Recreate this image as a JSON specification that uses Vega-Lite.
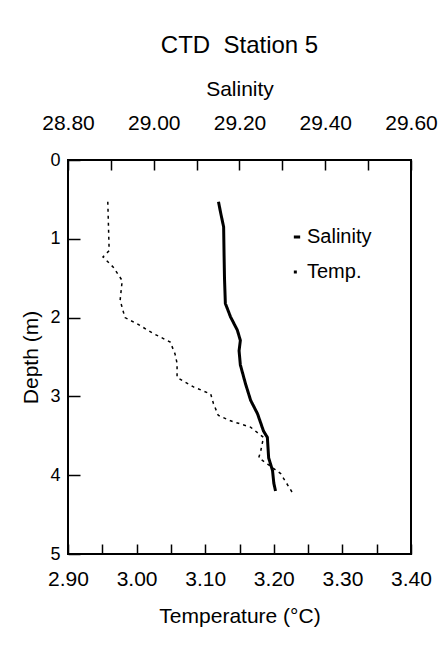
{
  "$schema": "https://vega.github.io/schema/vega-lite/v6.json",
  "width": 343,
  "height": 394,
  "autosize": {"type": "none"},
  "padding": {"left": 68, "top": 160, "right": 29, "bottom": 104},
  "background": "white",
  "title": {"text": "CTD\u00a0 Station 5", "fontSize": 24, "font": "Liberation Sans", "fontWeight": "normal", "offset": 20, "anchor": "middle", "color": "black"},
  "datasets": {
    "sal": [
      {"depth": 0.53, "salinity": 29.151},
      {"depth": 0.67, "salinity": 29.156},
      {"depth": 0.85, "salinity": 29.163},
      {"depth": 1.2, "salinity": 29.164},
      {"depth": 1.5, "salinity": 29.165},
      {"depth": 1.82, "salinity": 29.167},
      {"depth": 1.99, "salinity": 29.179},
      {"depth": 2.16, "salinity": 29.195},
      {"depth": 2.29, "salinity": 29.202},
      {"depth": 2.42, "salinity": 29.199},
      {"depth": 2.6, "salinity": 29.202},
      {"depth": 2.84, "salinity": 29.214},
      {"depth": 3.05, "salinity": 29.226},
      {"depth": 3.22, "salinity": 29.242},
      {"depth": 3.44, "salinity": 29.256},
      {"depth": 3.52, "salinity": 29.265},
      {"depth": 3.78, "salinity": 29.268},
      {"depth": 3.94, "salinity": 29.277},
      {"depth": 4.1, "salinity": 29.28},
      {"depth": 4.2, "salinity": 29.284}
    ],
    "temp": [
      {"depth": 0.53, "temperature": 2.958},
      {"depth": 1.15, "temperature": 2.96},
      {"depth": 1.23, "temperature": 2.951},
      {"depth": 1.36, "temperature": 2.966},
      {"depth": 1.53, "temperature": 2.979},
      {"depth": 1.78, "temperature": 2.976},
      {"depth": 2.0, "temperature": 2.983},
      {"depth": 2.08, "temperature": 3.001},
      {"depth": 2.2, "temperature": 3.024},
      {"depth": 2.31, "temperature": 3.049},
      {"depth": 2.46, "temperature": 3.056},
      {"depth": 2.58, "temperature": 3.059},
      {"depth": 2.76, "temperature": 3.059},
      {"depth": 2.88, "temperature": 3.083},
      {"depth": 2.97, "temperature": 3.108},
      {"depth": 3.09, "temperature": 3.112},
      {"depth": 3.24, "temperature": 3.119},
      {"depth": 3.31, "temperature": 3.137},
      {"depth": 3.39, "temperature": 3.166},
      {"depth": 3.52, "temperature": 3.185},
      {"depth": 3.69, "temperature": 3.181},
      {"depth": 3.78, "temperature": 3.178},
      {"depth": 3.86, "temperature": 3.191},
      {"depth": 3.98, "temperature": 3.21},
      {"depth": 4.22, "temperature": 3.227}
    ]
  },
  "config": {
    "view": {"stroke": "black", "strokeWidth": 2},
    "font": "Liberation Sans",
    "axis": {
      "domain": false,
      "grid": false,
      "tickColor": "black",
      "tickWidth": 1.5,
      "labelColor": "black",
      "titleColor": "black",
      "labelFont": "Liberation Sans",
      "titleFont": "Liberation Sans",
      "titleFontWeight": "normal",
      "labelFlush": false,
      "labelOverlap": false
    }
  },
  "layer": [
    {
      "data": {"name": "sal"},
      "mark": {"type": "line", "color": "black", "strokeWidth": 3},
      "encoding": {
        "x": {
          "field": "salinity", "type": "quantitative",
          "scale": {"domain": [28.8, 29.6], "nice": false, "zero": false},
          "axis": {
            "orient": "top", "title": "Salinity",
            "values": [28.8, 28.9, 29.0, 29.1, 29.2, 29.3, 29.4, 29.5, 29.6],
            "labelExpr": "round(datum.value*10) % 2 == 0 ? format(datum.value, '.2f') : ''",
            "tickSize": -10, "labelPadding": 37, "labelFontSize": 21, "titleFontSize": 21, "titlePadding": 13
          }
        },
        "y": {
          "field": "depth", "type": "quantitative",
          "scale": {"domain": [0, 5], "reverse": true, "nice": false},
          "axis": {
            "title": "Depth (m)", "values": [0, 1, 2, 3, 4, 5], "format": "d",
            "tickSize": -12, "labelPadding": 20, "labelFontSize": 18, "titleFontSize": 21, "titlePadding": 8
          }
        },
        "order": {"field": "depth", "type": "quantitative"},
        "strokeDash": {
          "datum": "Salinity",
          "scale": {"domain": ["Salinity", "Temp."], "range": [[1, 0], [3, 4]]},
          "legend": {
            "title": null, "orient": "none", "legendX": 219, "legendY": 67,
            "labelFontSize": 20, "labelColor": "black", "labelFont": "Liberation Sans",
            "symbolType": "stroke", "symbolStrokeWidth": 3, "symbolSize": 40,
            "symbolStrokeColor": "black", "rowPadding": 15, "labelOffset": 0
          }
        }
      }
    },
    {
      "data": {"name": "temp"},
      "mark": {"type": "line", "color": "black", "strokeWidth": 1.5},
      "encoding": {
        "x": {
          "field": "temperature", "type": "quantitative",
          "scale": {"domain": [2.9, 3.4], "nice": false, "zero": false},
          "axis": {
            "orient": "bottom", "title": "Temperature (°C)",
            "values": [2.9, 2.95, 3.0, 3.05, 3.1, 3.15, 3.2, 3.25, 3.3, 3.35, 3.4],
            "labelExpr": "round(datum.value*100) % 10 == 0 ? format(datum.value, '.2f') : ''",
            "tickSize": -10, "labelPadding": 24, "labelFontSize": 21, "titleFontSize": 21, "titlePadding": 16
          }
        },
        "y": {"field": "depth", "type": "quantitative"},
        "order": {"field": "depth", "type": "quantitative"},
        "strokeDash": {"datum": "Temp."}
      }
    }
  ],
  "resolve": {"scale": {"x": "independent"}, "axis": {"x": "independent"}}
}
